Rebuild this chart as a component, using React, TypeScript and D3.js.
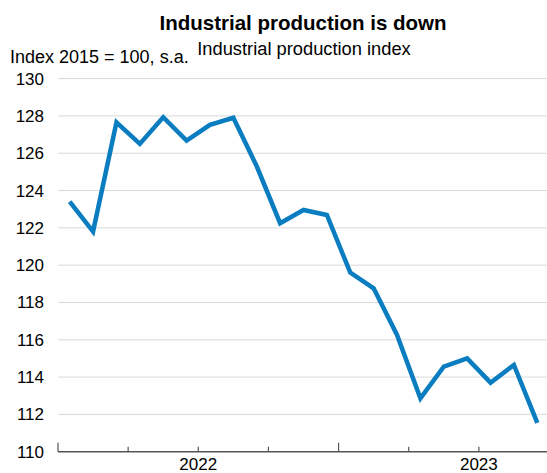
// App.tsx
import React, { useEffect, useRef } from 'react';
import * as d3 from 'd3';

// Monthly index values, Jan 2022 .. Sep 2023
const months = [
  '2022-01', '2022-02', '2022-03', '2022-04', '2022-05', '2022-06', '2022-07',
  '2022-08', '2022-09', '2022-10', '2022-11', '2022-12', '2023-01', '2023-02',
  '2023-03', '2023-04', '2023-05', '2023-06', '2023-07', '2023-08', '2023-09',
];
const values = [
  123.4, 121.8, 127.65, 126.5, 127.93, 126.68, 127.52,
  127.9, 125.3, 122.25, 122.96, 122.69, 119.6, 118.76,
  116.26, 112.86, 114.56, 115.0, 113.7, 114.65, 111.55,
];
const yTicks = [110, 112, 114, 116, 118, 120, 122, 124, 126, 128, 130];
const yearLabels = ['2022', '2023'];

const title = 'Industrial production is down';
const subtitle = 'Industrial production index';
const unitLabel = 'Index 2015 = 100, s.a.';

const W = 547, H = 473;

const App = () => {
  const ref = useRef<SVGSVGElement>(null);

  useEffect(() => {
    if (!ref.current) return;
    const svg = d3.select(ref.current);
    svg.selectAll('*').remove();

    const font = '"Liberation Sans", Arial, sans-serif';
    const left = 58, right = 549, top = 78.6, bottom = 451.7;

    // month index scale: 0 = start of Jan 2022, 21 = end of Sep 2023
    const x = d3.scaleLinear().domain([0, months.length]).range([left, right]);
    const y = d3.scaleLinear().domain([110, 130]).range([bottom, top]);

    // gridlines
    svg.append('g')
      .selectAll('line')
      .data(yTicks.filter(t => t > 110))
      .join('line')
      .attr('x1', left).attr('x2', W)
      .attr('y1', d => y(d)).attr('y2', d => y(d))
      .attr('stroke', '#d9d9d9').attr('stroke-width', 1);

    // y tick labels
    svg.append('g')
      .selectAll('text')
      .data(yTicks)
      .join('text')
      .attr('x', 44)
      .attr('y', d => y(d) + 6)
      .attr('text-anchor', 'end')
      .attr('font-family', font).attr('font-size', 17).attr('fill', '#000')
      .text(d => d);

    // x axis line + quarterly ticks
    svg.append('line')
      .attr('x1', left).attr('x2', W)
      .attr('y1', bottom).attr('y2', bottom)
      .attr('stroke', '#555').attr('stroke-width', 1.5);

    const qTicks = d3.range(0, months.length + 1, 3);
    svg.append('g')
      .selectAll('line')
      .data(qTicks)
      .join('line')
      .attr('x1', d => x(d)).attr('x2', d => x(d))
      .attr('y1', bottom)
      .attr('y2', d => bottom - (d % 12 === 0 ? 9 : 5))
      .attr('stroke', '#555').attr('stroke-width', 1.2);

    svg.append('g')
      .selectAll('text')
      .data(yearLabels)
      .join('text')
      .attr('x', (d, i) => x(i * 12 + 6))
      .attr('y', 469.5)
      .attr('text-anchor', 'middle')
      .attr('font-family', font).attr('font-size', 17).attr('fill', '#000')
      .text(d => d);

    // the line
    const line = d3.line<number>()
      .x((d, i) => x(i + 0.5))
      .y(d => y(d));

    svg.append('path')
      .datum(values)
      .attr('d', line)
      .attr('fill', 'none')
      .attr('stroke', '#0a7dc1')
      .attr('stroke-width', 4.5)
      .attr('stroke-linejoin', 'miter');

    // titles
    svg.append('text')
      .attr('x', 303).attr('y', 30)
      .attr('text-anchor', 'middle')
      .attr('font-family', font).attr('font-size', 20.5).attr('font-weight', 'bold')
      .text(title);

    svg.append('text')
      .attr('x', 304).attr('y', 55)
      .attr('text-anchor', 'middle')
      .attr('font-family', font).attr('font-size', 18.3)
      .text(subtitle);

    svg.append('text')
      .attr('x', 10).attr('y', 63)
      .attr('font-family', font).attr('font-size', 18)
      .text(unitLabel);
  }, []);

  return (
    <div style={{ position: 'absolute', left: 0, top: 0 }}>
      <svg ref={ref} width={W} height={H} style={{ display: 'block', background: '#fff' }}></svg>
    </div>
  );
};

export default App;
